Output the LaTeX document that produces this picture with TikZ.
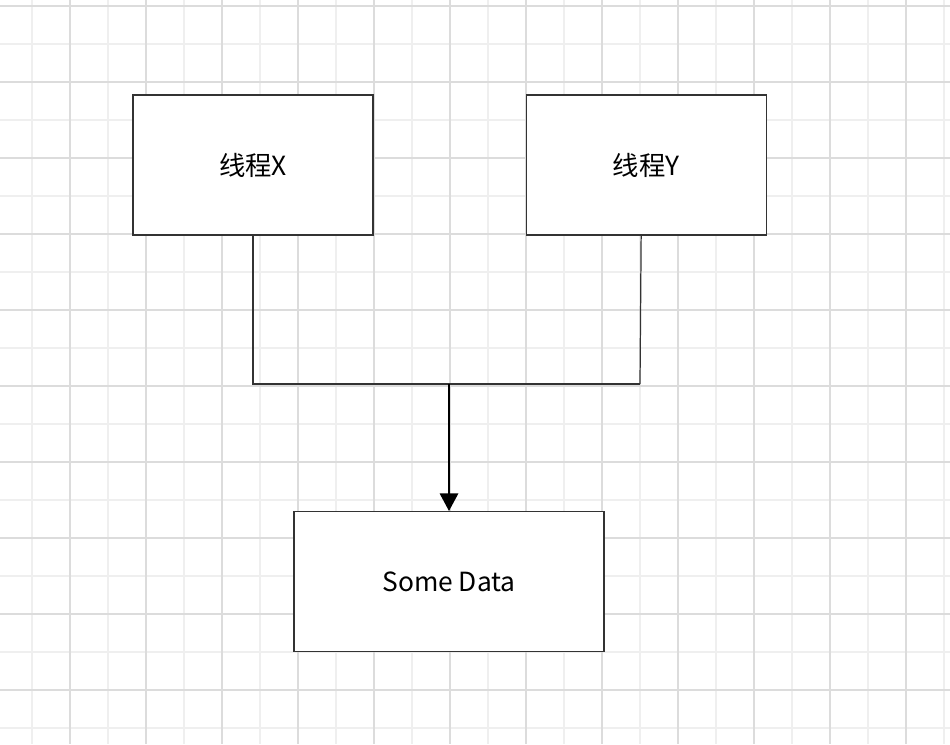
\documentclass[tikz,border=0pt]{standalone}
\usepackage{fontspec}
\usepackage{xcolor}
\setmainfont{Noto Sans CJK SC}
\usetikzlibrary{arrows.meta}
\usetikzlibrary{positioning}

\definecolor{gridlight}{HTML}{EFEFEF}
\definecolor{griddark}{HTML}{DCDCDC}
\definecolor{boxline}{HTML}{333333}

\tikzset{
    threadbox/.style={draw=boxline, line width=0.7pt, fill=white,
        minimum width=4.8cm, minimum height=2.8cm, inner sep=0pt,
        font=\fontsize{15}{18}\selectfont},
    databox/.style={threadbox, minimum width=6.2cm},
    wire/.style={draw=boxline, line width=0.7pt},
    flow/.style={draw=black, line width=0.9pt, -{Triangle[length=10pt, width=10.5pt]}},
}

\begin{document}
\begin{tikzpicture}[x=0.02cm, y=-0.02cm]
    % background grid
    \fill[white] (0,0) rectangle (950,744);
    \useasboundingbox (0,0) rectangle (950,744);
    \foreach \gx in {32,108,...,950} {
        \draw[gridlight, line width=0.8pt] (\gx,0) -- (\gx,744);
    }
    \foreach \gy in {44,120,...,744} {
        \draw[gridlight, line width=0.8pt] (0,\gy) -- (950,\gy);
    }
    \foreach \gx in {70,146,...,950} {
        \draw[griddark, line width=0.8pt] (\gx,0) -- (\gx,744);
    }
    \foreach \gy in {6,82,...,744} {
        \draw[griddark, line width=0.8pt] (0,\gy) -- (950,\gy);
    }

    \node[threadbox] (threadX) at (253,165) {线程X};
    \node[threadbox, right=3.04cm of threadX] (threadY) {线程Y};
    \coordinate (merge) at (449,384);
    \coordinate (mergeY) at (640,384);
    \node[databox, below=2.54cm of merge] (data) {Some Data};

    \draw[wire] (threadX.south) |- (mergeY);
    \draw[wire] ([xshift=-0.1cm]threadY.south) -- (mergeY);
    \draw[flow] (merge) -- (data.north);
\end{tikzpicture}
\end{document}
